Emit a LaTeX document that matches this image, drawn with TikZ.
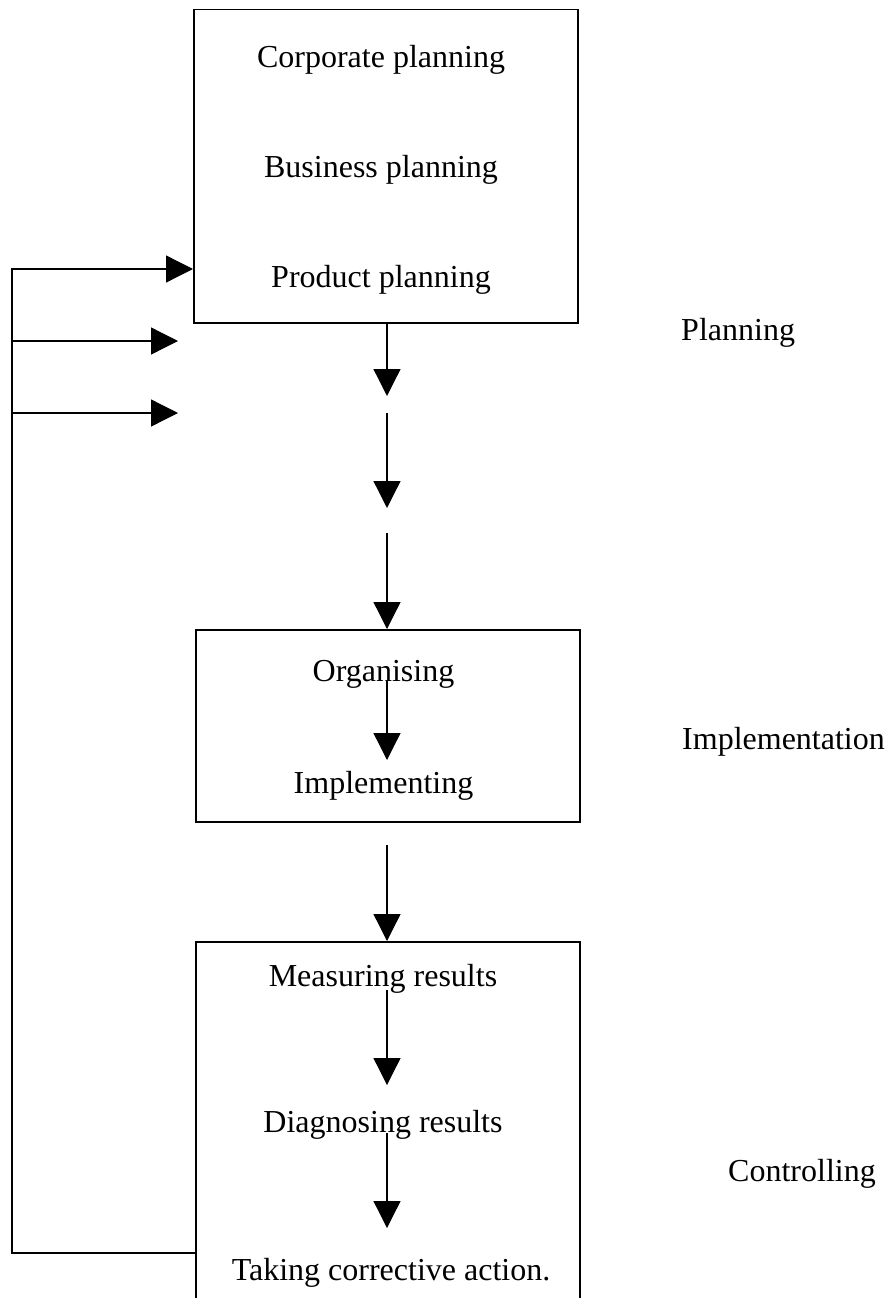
\documentclass[tikz,border=0pt]{standalone}
\usepackage{fontspec}
\setmainfont{Liberation Serif}
\usetikzlibrary{arrows.meta}
\begin{document}
\begin{tikzpicture}[x=1pt,y=-1pt,
  box/.style={draw, line width=1.5pt, inner sep=0pt, anchor=north west},
  lbl/.style={font=\fontsize{32}{38}\selectfont, inner sep=0pt, anchor=base},
  side/.style={font=\fontsize{32}{38}\selectfont, inner sep=0pt, anchor=base west},
  flow/.style={line width=1.3pt, -{Triangle[length=27pt,width=27pt]}},
  fb/.style={line width=1.3pt}]
\path[use as bounding box] (0,0) rectangle (887,1298);
\clip (0,0) rectangle (887,1298);
% boxes
\node[box, minimum width=384pt, minimum height=313pt] (box1) at (193,9) {};
\node[box, minimum width=384pt, minimum height=192pt] (box2) at (195,629) {};
\node[box, minimum width=384pt, minimum height=420pt] (box3) at (195,941) {};
% texts
\node[lbl] (corp) at (381,67) {Corporate planning};
\node[lbl] (bus) at (381,177) {Business planning};
\node[lbl] (prod) at (381,287) {Product planning};
\node[lbl] (org) at (383.5,681) {Organising};
\node[lbl] (impl) at (383.5,793) {Implementing};
\node[lbl] (meas) at (383,986) {Measuring results};
\node[lbl] (diag) at (383,1132) {Diagnosing results};
\node[lbl] (take) at (391,1280) {Taking corrective action.};
\node[side] (plan) at (681,340) {Planning};
\node[side] (implab) at (682,749) {Implementation};
\node[side] (ctrl) at (728,1181) {Controlling};
% column coordinates
\coordinate (col) at (387,0);
\coordinate (a1e) at (387,396);
\coordinate (a2s) at (387,413);
\coordinate (a2e) at (387,508);
\coordinate (a3s) at (387,533);
\coordinate (o1e) at (387,760);
\coordinate (b1s) at (387,845);
\coordinate (m1e) at (387,1085);
\coordinate (d1e) at (387,1228);
% main flow
\draw[flow] (box1.south -| col) -- (a1e);
\draw[flow] (a2s) -- (a2e);
\draw[flow] (a3s) -- (box2.north -| col);
\draw[flow] (org.base -| col) -- (o1e);
\draw[flow] (b1s) -- (box3.north -| col);
\draw[flow] ([yshift=-4pt]meas.base -| col) -- (m1e);
\draw[flow] ([yshift=-1pt]diag.base -| col) -- (d1e);
% feedback
\coordinate (fbc) at (12,1253);
\coordinate (f1) at (12,269);
\coordinate (f2) at (12,341);
\coordinate (g2) at (178,341);
\coordinate (f3) at (12,413);
\coordinate (g3) at (178,413);
\draw[flow] (fbc -| box3.west) -- (fbc) -- (f1) -- (f1 -| box1.west);
\draw[flow] (f2) -- (g2);
\draw[flow] (f3) -- (g3);
\end{tikzpicture}
\end{document}
